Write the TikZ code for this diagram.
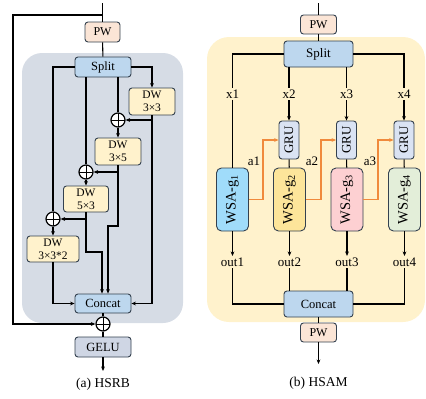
\documentclass[tikz,border=0pt]{standalone}
\usepackage{fontspec}
\usepackage{graphicx}
\setmainfont{Liberation Serif}
\usetikzlibrary{arrows.meta}
\definecolor{bordc}{HTML}{34414F}
\definecolor{pwfill}{HTML}{FBE5D6}
\definecolor{splitfill}{HTML}{BDD7EE}
\definecolor{dwfill}{HTML}{FFF2CC}
\definecolor{gelufill}{HTML}{CFD6E4}
\definecolor{grufill}{HTML}{DAE3F3}
\definecolor{graybg}{HTML}{D6DCE5}
\definecolor{yellowbg}{HTML}{FFF2CC}
\definecolor{wsaA}{HTML}{A0DCFA}
\definecolor{wsaB}{HTML}{FDE59A}
\definecolor{wsaC}{HTML}{FDD0D2}
\definecolor{wsaD}{HTML}{E3EED9}
\definecolor{orng}{HTML}{F08A3C}
\tikzset{
  box/.style={draw=bordc, line width=0.9pt, rounded corners=3pt, inner sep=0pt, align=center},
  pwbox/.style={box, fill=pwfill, minimum width=35pt, minimum height=20pt, font=\fontsize{12}{12}\selectfont},
  splitbox/.style={box, fill=splitfill, font=\fontsize{12.5}{12}\selectfont},
  dwbox/.style={box, fill=dwfill, minimum width=46pt, minimum height=27pt, font=\fontsize{11.5}{13}\selectfont},
  grubox/.style={box, fill=grufill, minimum width=20pt, minimum height=38pt, font=\fontsize{13}{13}\selectfont},
  wsabox/.style={box, rounded corners=5pt, minimum width=32pt, minimum height=63pt, font=\fontsize{14.5}{15}\selectfont},
  oplus/.style={circle, draw=black, line width=1.2pt, fill=white, minimum size=14pt, inner sep=0pt,
    path picture={\draw[line width=1pt] (path picture bounding box.north) -- (path picture bounding box.south)
      (path picture bounding box.west) -- (path picture bounding box.east);}},
  conn/.style={line width=1.05pt, draw=black},
  arr/.style={conn, -{Stealth[length=4.5pt,width=3.8pt]}},
  oarr/.style={line width=1.1pt, draw=orng, -{Stealth[length=4.5pt,width=3.8pt]}},
  lbl/.style={inner sep=1.5pt, font=\fontsize{13}{13}\selectfont},
  captext/.style={inner sep=0pt, font=\fontsize{13.5}{14}\selectfont}
}
\begin{document}
\begin{tikzpicture}[x=1pt,y=-1pt]
\useasboundingbox (0,0) rectangle (426,399);
% ---------- (a) HSRB ----------
\fill[graybg, rounded corners=20pt] (22,53) rectangle (183,323);
\coordinate (ta) at (102.5,3);
\coordinate (tb) at (102.5,15);
\coordinate (sk1) at (13,15);
\coordinate (sk2) at (13,324);
\node[pwbox] (pwa) at (102.5,32) {PW};
\node[splitbox, minimum width=56pt, minimum height=20pt] (splita) at (103,67) {Split};
\node[dwbox] (dw33) at (152,101.5) {DW\\3×3};
\node[oplus] (c1) at (118,120) {};
\node[dwbox] (dw35) at (118,151.5) {DW\\3×5};
\node[oplus] (c2) at (86,172) {};
\node[dwbox, minimum width=45pt, minimum height=26pt] (dw53) at (86,199) {DW\\5×3};
\node[oplus] (c3) at (53,219) {};
\node[dwbox, minimum width=52pt, minimum height=26pt] (dw332) at (53,249) {DW\\3×3*2};
\node[splitbox, minimum width=56pt, minimum height=19pt] (concata) at (103,303.5) {Concat};
\node[oplus] (c4) at (103,324) {};
\node[box, fill=gelufill, minimum width=56pt, minimum height=20pt, font=\fontsize{12.5}{12}\selectfont] (gelu) at (103,347) {GELU};
\coordinate (outa) at (103,371);
\coordinate (j1) at (108,226);
\coordinate (j2) at (102,252);
\node[captext] (capa) at (103,384) {(a) HSRB};

\draw[conn] (ta) -- (pwa.north);
\draw[arr] (tb) -- (sk1) -- (sk2) -- (c4);
\draw[conn] (pwa) -- (splita);
\draw[conn] (splita.west) -| (c3);
\draw[arr] (splita.east) -| (dw33.north);
\draw[conn] (splita.south -| c2) -- (c2);
\draw[conn] (splita.south -| c1) -- (c1);
\draw[arr] (dw33.south |- c1) -- (c1);
\draw[arr] (dw33.south) |- (concata.east);
\draw[arr] (c1) -- (dw35.north);
\draw[arr] (dw35.south |- c2) -- (c2);
\draw[arr] (dw35.south) |- (j1) -- (j1 |- concata.north);
\draw[arr] (c2) -- (dw53.north);
\draw[arr] (dw53.south |- c3) -- (c3);
\draw[arr] (dw53.south) |- (j2) -- (j2 |- concata.north);
\draw[arr] (c3) -- (dw332.north);
\draw[arr] (dw332.south) |- (concata.west);
\draw[conn] (concata) -- (c4);
\draw[conn] (c4) -- (gelu);
\draw[arr] (gelu.south) -- (outa);

% ---------- (b) HSAM ----------
\fill[yellowbg, rounded corners=22pt] (207,37) rectangle (425,322);
\coordinate (tc) at (318.5,3);
\node[pwbox, minimum width=36pt, minimum height=19pt] (pwb) at (318.5,24.5) {PW};
\node[splitbox, minimum width=69pt, minimum height=26pt, font=\fontsize{13}{13}\selectfont] (splitb) at (318.5,54) {Split};
\node[lbl] (x1) at (232.5,94) {x1};
\node[lbl] (x2) at (289,94) {x2};
\node[lbl] (x3) at (346.5,94) {x3};
\node[lbl] (x4) at (404,94) {x4};
\node[grubox] (g2) at (289,140) {\rotatebox{90}{GRU}};
\node[grubox] (g3) at (346.5,140) {\rotatebox{90}{GRU}};
\node[grubox] (g4) at (404,140) {\rotatebox{90}{GRU}};
\node[wsabox, fill=wsaA] (w1) at (232.5,199.5) {\rotatebox{90}{WSA-g\textsubscript{1}}};
\node[wsabox, fill=wsaB] (w2) at (289.5,199.5) {\rotatebox{90}{WSA-g\textsubscript{2}}};
\node[wsabox, fill=wsaC] (w3) at (347,199.5) {\rotatebox{90}{WSA-g\textsubscript{3}}};
\node[wsabox, fill=wsaD] (w4) at (404.5,199.5) {\rotatebox{90}{WSA-g\textsubscript{4}}};
\coordinate (o1) at (263,199.5);
\coordinate (o2) at (321,199.5);
\coordinate (o3) at (378,199.5);
\node[lbl] (a1) at (254,161) {a1};
\node[lbl] (a2) at (312,161) {a2};
\node[lbl] (a3) at (370,161) {a3};
\node[lbl] (out1) at (232.5,262) {out1};
\node[lbl] (out2) at (289.5,262) {out2};
\node[lbl] (out3) at (347,262) {out3};
\node[lbl] (out4) at (404.5,262) {out4};
\node[splitbox, minimum width=69pt, minimum height=26pt] (concatb) at (318.5,304) {Concat};
\node[pwbox, minimum width=36pt, minimum height=19pt] (pwb2) at (318.5,332.5) {PW};
\coordinate (outb) at (318.5,364);
\node[captext] (capb) at (318.5,383) {(b) HSAM};

\draw[conn] (tc) -- (pwb.north);
\draw[conn] (pwb) -- (splitb);
\draw[conn] (splitb.west) -| (x1);
\draw[conn] (splitb.south -| x2) -- (x2);
\draw[conn] (splitb.south -| x3) -- (x3);
\draw[conn] (splitb.east) -| (x4);
\draw[conn] (x1) -- (w1);
\draw[arr] (x2) -- (g2);
\draw[arr] (x3) -- (g3);
\draw[arr] (x4) -- (g4);
\draw[conn] (g2) -- (w2);
\draw[conn] (g3) -- (w3);
\draw[conn] (g4) -- (w4);
\draw[oarr] (w1.east) -- (o1) |- (g2.west);
\draw[oarr] (w2.east) -- (o2) |- (g3.west);
\draw[oarr] (w3.east) -- (o3) |- (g4.west);
\draw[arr] (w1) -- (out1);
\draw[arr] (w2) -- (out2);
\draw[arr] (w3) -- (out3);
\draw[arr] (w4) -- (out4);
\draw[conn] (out1.south) |- (concatb.west);
\draw[conn] (out2.south) -- (out2.south |- concatb.north);
\draw[conn] (out3.south) -- (out3.south |- concatb.north);
\draw[conn] (out4.south) |- (concatb.east);
\draw[conn] (concatb) -- (pwb2);
\draw[arr] (pwb2.south) -- (outb);
\end{tikzpicture}
\end{document}
